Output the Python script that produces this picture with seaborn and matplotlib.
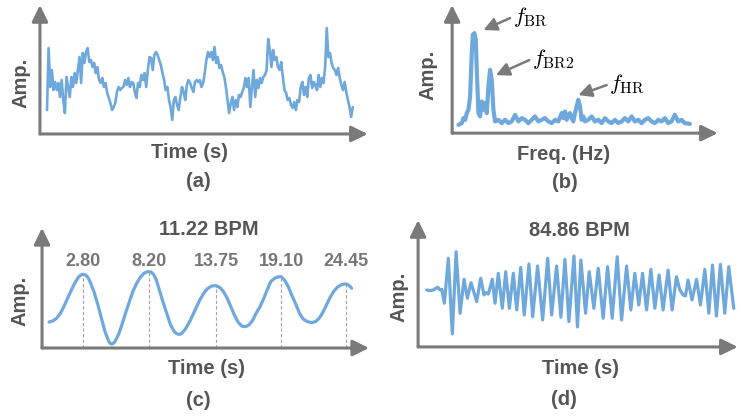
import matplotlib.pyplot as plt
import numpy as np
import seaborn as sns

# (a) raw radar displacement, one sample every 1/6 s (heights)
raw_amp = [
    24, 86, 47, 64, 44, 52, 44, 51, 37, 54, 34, 21, 57, 47, 37, 57, 47, 61, 51, 64,
    77, 51, 81, 71, 82, 86, 72, 74, 67, 71, 61, 67, 54, 51, 56, 47, 51, 41, 36, 31,
    24, 27, 31, 42, 47, 44, 46, 47, 54, 49, 56, 47, 52, 51, 42, 36, 51, 47, 59, 54,
    61, 47, 64, 77, 76, 64, 79, 82, 79, 74, 69, 61, 54, 44, 47, 34, 27, 14, 34, 37,
    29, 24, 37, 47, 42, 34, 49, 54, 51, 46, 42, 52, 54, 52, 54, 47, 51, 61, 74, 82,
    77, 82, 74, 87, 71, 77, 66, 69, 62, 57, 47, 34, 21, 31, 37, 24, 34, 27, 39, 37,
    42, 46, 56, 47, 56, 27, 47, 64, 37, 54, 46, 56, 51, 57, 59, 64, 95, 84, 67, 84,
    74, 77, 67, 64, 72, 57, 44, 41, 34, 36, 29, 26, 32, 24, 34, 32, 47, 52, 39, 47,
    37, 56, 59, 46, 52, 49, 44, 59, 47, 56, 51, 67, 106, 77, 81, 71, 66, 64, 59, 66,
    56, 49, 44, 52, 42, 34, 27, 17, 27,
]
raw_dt = 1 / 6

# (b) spectrum of the raw signal
spec_freq = [
    0.00, 0.04, 0.06, 0.08, 0.10, 0.12, 0.14, 0.16, 0.172, 0.192, 0.208, 0.22,
    0.24, 0.26, 0.28, 0.30, 0.32, 0.34, 0.36, 0.38, 0.40, 0.42, 0.44,
    0.48, 0.52, 0.56, 0.60, 0.64, 0.68, 0.72, 0.76, 0.80, 0.84, 0.88, 0.92,
    0.96, 1.00, 1.04, 1.08, 1.12, 1.16, 1.20,
    1.24, 1.26, 1.28, 1.30, 1.32, 1.34, 1.36, 1.38, 1.40, 1.42, 1.44, 1.46,
    1.48, 1.50, 1.52,
    1.56, 1.60, 1.64, 1.68, 1.72, 1.76, 1.80, 1.84, 1.88, 1.92, 1.96, 2.00,
    2.04, 2.08, 2.12, 2.16, 2.20, 2.24, 2.28, 2.32, 2.36, 2.40, 2.44, 2.48,
    2.52, 2.56, 2.60, 2.64, 2.68, 2.72, 2.78,
]
spec_amp = [
    8.3, 10, 15, 13.3, 20, 23.3, 36.7, 80, 98.3, 100, 93.3, 63.3,
    20, 16.7, 31.7, 23.3, 30, 20, 46.7, 63.3, 53.3, 23.3, 11.7,
    13.3, 10, 13.3, 10, 11.7, 18.3, 11.7, 15, 13.3, 10, 13.3, 16.7,
    11.7, 13.3, 15, 11.7, 10, 13.3, 11.7,
    20, 15, 21.7, 13.3, 18.3, 20, 15, 11.7, 20, 26.7, 33.3, 26.7,
    13.3, 16.7, 11.7,
    13.3, 16.7, 11.7, 13.3, 10, 15, 11.7, 10, 13.3, 10, 11.7, 15,
    11.7, 16.7, 11.7, 13.3, 10, 13.3, 15, 11.7, 10, 13.3, 11.7, 15,
    10, 11.7, 18.3, 11.7, 13.3, 10, 9.3,
]
spec_peaks = {
    r"$f_{\mathrm{BR}}$": ((0.30, 103), (0.62, 115)),
    r"$f_{\mathrm{BR2}}$": ((0.45, 58), (0.85, 73)),
    r"$f_{\mathrm{HR}}$": ((1.44, 38), (1.78, 48)),
}

# (c) breathing waveform
br_time = [
    0.00, 0.30, 0.60, 0.90, 1.20, 1.50, 1.80, 2.10, 2.40, 2.60, 2.80, 3.00, 3.20,
    3.40, 3.70, 4.00, 4.30, 4.60, 4.85, 4.95, 5.05, 5.15, 5.25, 5.40, 5.70,
    6.00, 6.30, 6.60, 6.90, 7.20, 7.50, 7.80, 8.00, 8.20, 8.40, 8.60, 8.80,
    9.10, 9.40, 9.70, 10.00, 10.30, 10.50, 10.65, 10.80, 10.95, 11.25, 11.55, 11.85,
    12.15, 12.45, 12.75, 13.05, 13.40, 13.75, 14.05, 14.35, 14.65, 14.95, 15.25, 15.55,
    15.85, 16.15, 16.45, 16.75, 17.05, 17.35, 17.65, 17.95, 18.25, 18.60, 18.85, 19.10,
    19.40, 19.70, 20.00, 20.30, 20.60, 20.90, 21.25, 21.60, 21.95, 22.25, 22.55, 22.85,
    23.15, 23.45, 23.75, 24.10, 24.45, 24.70, 24.90,
]
br_amp = [
    26.0, 27.0, 29.5, 34.0, 41.0, 49.0, 57.0, 64.5, 70.5, 72.8, 73.7, 73.0, 70.5,
    65.5, 56.0, 44.0, 30.0, 16.5, 8.5, 6.0, 4.5, 4.0, 4.3, 6.0, 13.0,
    23.5, 35.0, 46.0, 56.5, 64.5, 70.5, 74.5, 75.8, 76.3, 75.8, 73.5, 69.0,
    57.0, 45.0, 34.0, 23.0, 16.5, 14.3, 13.7, 13.9, 15.0, 19.5, 26.0, 33.5,
    41.5, 49.0, 55.0, 59.5, 62.0, 62.3, 60.5, 56.5, 50.0, 41.5, 33.0, 26.0,
    22.0, 21.3, 23.0, 27.5, 35.0, 41.0, 49.0, 58.0, 66.5, 70.0, 71.0, 71.3,
    67.5, 61.0, 52.0, 44.0, 35.0, 29.0, 26.5, 25.3, 26.5, 30.0, 36.0, 43.5,
    51.0, 57.0, 61.0, 63.5, 64.0, 62.5, 59.7,
]
br_peak_time = [2.80, 8.20, 13.75, 19.10, 24.45]
br_peak_amp = [73.7, 76.3, 62.3, 71.3, 64.0]
br_rate = "11.22 BPM"

# (d) heartbeat waveform
hr_time = [
    0.00, 0.28, 0.56, 0.77, 0.94, 1.13, 1.28, 1.50, 1.84, 2.18, 2.50, 2.84,
    3.18, 3.46, 3.77, 4.26, 4.60, 4.88, 5.05, 5.25, 5.59, 5.82, 6.10, 6.44,
    6.73, 7.04, 7.38, 7.67, 8.01, 8.31, 8.71, 9.03, 9.45, 9.88, 10.31, 10.65,
    11.07, 11.44, 11.78, 12.12, 12.55, 12.85, 13.14, 13.54, 13.85, 14.25, 14.62, 15.04,
    15.42, 15.81, 16.24, 16.61, 17.04, 17.40, 17.74, 18.08, 18.40, 18.74, 19.11, 19.45,
    19.81, 20.15, 20.58, 20.92, 21.29, 21.58, 21.86, 22.06, 22.28, 22.62, 23.00, 23.34,
    23.71, 24.05, 24.36, 24.70, 25.04, 25.41, 25.75, 26.18,
]
hr_amp = [
    57, 56.3, 57, 58.7, 59.7, 57, 57.7, 43.7, 88.7, 13, 95.3, 33.7,
    67.7, 48.7, 64.3, 45.3, 68.7, 52, 54.3, 53, 67.7, 43.7, 73.7, 38.7,
    75.3, 38.7, 73.7, 37, 79.7, 32, 83, 30.3, 81, 27, 88.7, 32,
    81, 29.7, 87.7, 25.3, 91, 20, 87, 33.7, 75.3, 38.7, 78.7, 28.7,
    80.3, 28.7, 90.3, 27, 81, 37, 73.7, 42, 73.7, 37, 77.7, 38.7,
    72, 37, 77, 37, 70.3, 57, 52, 51, 67, 47, 67.7, 42,
    77.7, 33.7, 82, 31, 82.7, 33.7, 80.3, 38.7,
]
hr_rate = "84.86 BPM"

LINE = "#6fa8dc"
AXIS_GREY = "#7a7a7a"
TEXT_GREY = "#555555"
PEAK_GREY = "#777777"

sns.set_theme(style="white")
plt.rcParams["font.family"] = ["Liberation Sans", "DejaVu Sans"]
plt.rcParams["mathtext.fontset"] = "cm"
plt.rcParams["lines.solid_joinstyle"] = "round"
plt.rcParams["lines.solid_capstyle"] = "round"

fig = plt.figure(figsize=(7.4, 4.2), dpi=100)
ax_a = fig.add_axes([0.054, 0.681, 0.443, 0.307])
ax_b = fig.add_axes([0.611, 0.683, 0.359, 0.305])
ax_c = fig.add_axes([0.0568, 0.1714, 0.442, 0.286])
ax_d = fig.add_axes([0.565, 0.174, 0.432, 0.302])


def arrow_axes(ax):
    ax.axis("off")
    style = "-|>,head_length=0.45,head_width=0.22"
    for end in [(1, 0), (0, 1)]:
        ax.annotate("", xy=end, xytext=(0, 0), xycoords="axes fraction",
                    arrowprops=dict(arrowstyle=style, color=AXIS_GREY, lw=2.2,
                                    mutation_scale=22, shrinkA=0, shrinkB=0))


def panel_text(ax, xlabel, tag, ylab_xy, xlab_xy, tag_xy):
    kw = dict(transform=ax.transAxes, ha="center", va="center",
              fontsize=14.5, fontweight="bold", color=TEXT_GREY)
    ax.text(*ylab_xy, "Amp.", rotation=90, **kw)
    ax.text(*xlab_xy, xlabel, **kw)
    ax.text(*tag_xy, tag, **kw)


# (a)
raw_time = np.arange(len(raw_amp)) * raw_dt
sns.lineplot(x=raw_time, y=raw_amp, ax=ax_a, color=LINE, linewidth=1.9,
             estimator=None, sort=False)
ax_a.set_xlim(-0.72, 32.87)
ax_a.set_ylim(0, 129)
arrow_axes(ax_a)
panel_text(ax_a, "Time (s)", "(a)", (-0.058, 0.395), (0.457, -0.147), (0.482, -0.372))

# (b)
sns.lineplot(x=spec_freq, y=spec_amp, ax=ax_b, color=LINE, linewidth=3.0,
             estimator=None, sort=False)
ax_b.set_xlim(-0.076, 3.116)
ax_b.set_ylim(0, 128)
arrow_axes(ax_b)
panel_text(ax_b, "Freq. (Hz)", "(b)", (-0.09, 0.453), (0.418, -0.164), (0.425, -0.388))
for name, (head, tail) in spec_peaks.items():
    ax_b.annotate("", xy=head, xytext=tail,
                  arrowprops=dict(arrowstyle="-|>,head_length=0.5,head_width=0.25",
                                  color=AXIS_GREY, lw=1.8, mutation_scale=16,
                                  shrinkA=0, shrinkB=0))
    ax_b.text(tail[0] + 0.03, tail[1] + 1, name, ha="left", va="center",
              fontsize=16, color="black")

# (c)
sns.lineplot(x=br_time, y=br_amp, ax=ax_c, color=LINE, linewidth=2.3,
             estimator=None, sort=False)
ax_c.vlines(br_peak_time, 0, br_peak_amp, colors="#a0a0a0", linewidth=0.8,
            linestyles=(0, (3, 2)))
for t, a in zip(br_peak_time, br_peak_amp):
    ax_c.text(t, 86.5, f"{t:.2f}", ha="center", va="center", fontsize=13,
              fontweight="bold", color=PEAK_GREY)
ax_c.set_xlim(-0.58, 26.34)
ax_c.set_ylim(0, 120)
arrow_axes(ax_c)
panel_text(ax_c, "Time (s)", "(c)", (-0.067, 0.39), (0.504, -0.17), (0.478, -0.433))
ax_c.text(0.509, 0.983, br_rate, transform=ax_c.transAxes, ha="center", va="center",
          fontsize=14.5, fontweight="bold", color=TEXT_GREY)

# (d)
sns.lineplot(x=hr_time, y=hr_amp, ax=ax_d, color=LINE, linewidth=2.3,
             estimator=None, sort=False)
ax_d.set_xlim(-0.74, 26.52)
ax_d.set_ylim(0, 127)
arrow_axes(ax_d)
panel_text(ax_d, "Time (s)", "(d)", (-0.061, 0.394), (0.508, -0.168), (0.457, -0.417))
ax_d.text(0.506, 0.921, hr_rate, transform=ax_d.transAxes, ha="center", va="center",
          fontsize=14.5, fontweight="bold", color=TEXT_GREY)

fig.savefig("out.png", dpi=100)
plt.close(fig)
